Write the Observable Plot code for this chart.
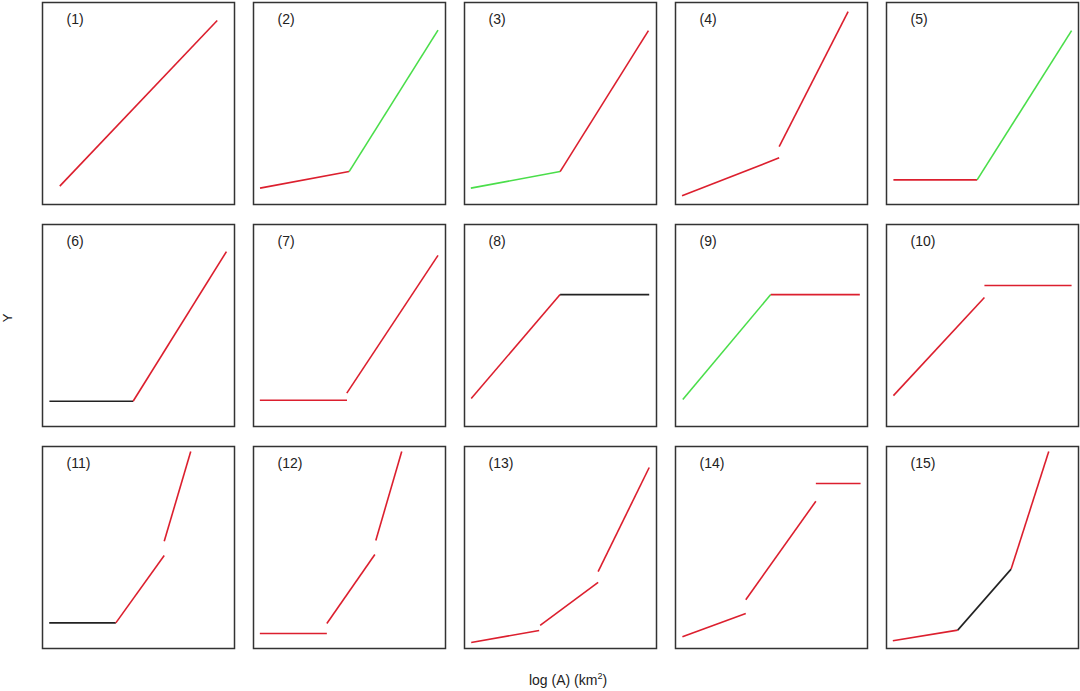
<!DOCTYPE html>
<html><head><meta charset="utf-8">
<script src="https://cdn.jsdelivr.net/npm/d3@7"></script>
<script src="https://cdn.jsdelivr.net/npm/@observablehq/plot@0.6"></script>
<style>
body{margin:0;background:#fff;font-family:"Liberation Sans",Arial,sans-serif;}
#wrap{position:relative;width:1080px;height:691px;overflow:hidden;}
#ylab{position:absolute;left:7px;top:318px;transform:translate(-50%,-50%) rotate(-90deg);font-size:13px;line-height:13px;color:#222;}
#xlab{position:absolute;left:568px;top:680px;transform:translate(-50%,-50%);font-size:14px;color:#222;white-space:nowrap;}
#xlab sup{font-size:9px;vertical-align:6px;line-height:0;}
</style></head>
<body><div id="wrap"><div id="chart"></div><div id="ylab">Y</div><div id="xlab">log (A) (km<sup>2</sup>)</div></div>
<script>
// Panel labels
const panelLabels = ["(1)","(2)","(3)","(4)","(5)","(6)","(7)","(8)","(9)","(10)","(11)","(12)","(13)","(14)","(15)"];
// Segments per panel: [x1, y1, x2, y2, type]  (x = log A, y = Y, arbitrary units 0–10)
const p1  = [[0.90,0.91, 9.10,9.11,"r"]];
const p2  = [[0.34,0.81, 4.98,1.63,"r"], [4.98,1.63, 9.61,8.63,"g"]];
const p3  = [[0.33,0.81, 4.98,1.63,"g"], [4.98,1.63, 9.58,8.61,"r"]];
const p4  = [[0.34,0.43, 5.40,2.31,"r"], [5.40,2.86, 8.99,9.55,"r"]];
const p5  = [[0.36,1.22, 4.72,1.22,"r"], [4.72,1.22, 9.64,8.61,"g"]];
const p6  = [[0.36,1.25, 4.72,1.25,"k"], [4.72,1.25, 9.58,8.66,"r"]];
const p7  = [[0.33,1.30, 4.87,1.30,"r"], [4.86,1.65, 9.61,8.47,"r"]];
const p8  = [[0.35,1.39, 4.98,6.53,"r"], [4.98,6.53, 9.62,6.53,"k"]];
const p9  = [[0.38,1.34, 4.96,6.53,"g"], [4.96,6.53, 9.60,6.53,"r"]];
const p10 = [[0.36,1.53, 5.10,6.39,"r"], [5.10,6.98, 9.64,6.98,"r"]];
const p11 = [[0.35,1.27, 3.82,1.27,"k"], [3.82,1.27, 6.34,4.60,"r"], [6.34,5.31, 7.72,9.75,"r"]];
const p12 = [[0.33,0.74, 3.82,0.74,"r"], [3.82,1.24, 6.32,4.65,"r"], [6.37,5.35, 7.72,9.75,"r"]];
const p13 = [[0.35,0.30, 3.89,0.89,"r"], [3.94,1.14, 6.96,3.27,"r"], [6.96,3.81, 9.62,8.96,"r"]];
const p14 = [[0.36,0.58, 3.66,1.73,"r"], [3.66,2.41, 7.31,7.29,"r"], [7.31,8.17, 9.64,8.17,"r"]];
const p15 = [[0.33,0.38, 3.71,0.91,"r"], [3.71,0.91, 6.49,3.93,"k"], [6.49,3.93, 8.45,9.75,"r"]];
const types = ["r","g","k"];

const panels = [p1,p2,p3,p4,p5,p6,p7,p8,p9,p10,p11,p12,p13,p14,p15];
const segments = panels.flatMap((segs,i)=>segs.map(([x1,y1,x2,y2,type])=>({col:i%5,row:Math.floor(i/5),x1,y1,x2,y2,type})));
const labels = panelLabels.map((t,i)=>({t,col:i%5,row:Math.floor(i/5)}));

const chart = Plot.plot({
  width:1080, height:691,
  marginLeft:41, marginRight:1, marginTop:1.5, marginBottom:43,
  fx:{domain:[0,1,2,3,4], axis:null, paddingInner:0.0922, paddingOuter:0},
  fy:{domain:[0,1,2], axis:null, paddingInner:0.0911, paddingOuter:0},
  x:{domain:[0,10], axis:null},
  y:{domain:[0,10], axis:null},
  color:{domain:types, range:["#dc1f2e","#4ade4a","#222222"]},
  style:{fontFamily:"Liberation Sans, Arial, sans-serif", fontSize:"14px", background:"#fff"},
  marks:[
    Plot.frame({stroke:"#333", strokeWidth:1.5, strokeOpacity:1}),
    Plot.link(segments,{x1:"x1",y1:"y1",x2:"x2",y2:"y2",stroke:"type",strokeWidth:1.6,fx:"col",fy:"row"}),
    Plot.text(labels,{text:"t",fx:"col",fy:"row",frameAnchor:"top-left",textAnchor:"start",lineAnchor:"middle",dx:24,dy:17.5,fill:"#222"})
  ]
});
document.getElementById("chart").appendChild(chart);
</script>
</body></html>
